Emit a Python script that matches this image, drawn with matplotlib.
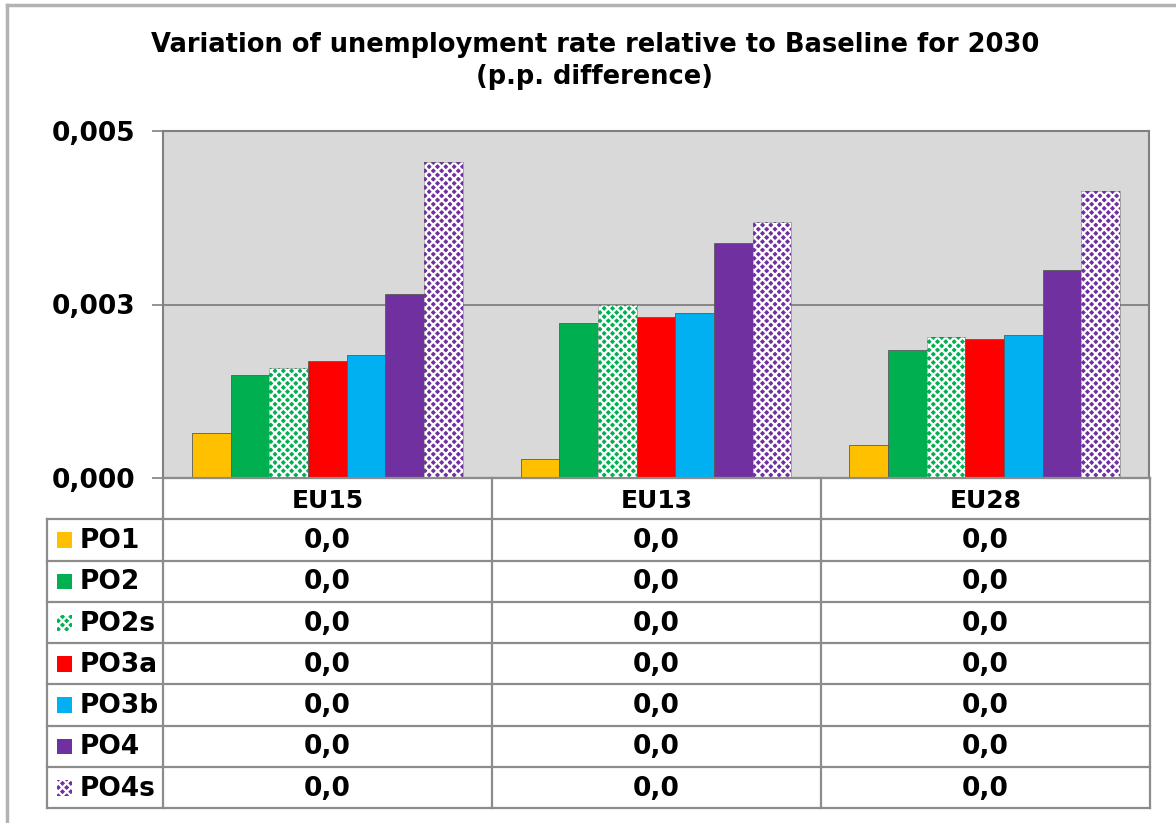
import matplotlib.pyplot as plt
from matplotlib.patches import Rectangle
from matplotlib.lines import Line2D

# data
regions = ['EU15', 'EU13', 'EU28']
options = ['PO1', 'PO2', 'PO2s', 'PO3a', 'PO3b', 'PO4', 'PO4s']
po1 = [0.00065, 0.00027, 0.00048]
po2 = [0.00148, 0.00224, 0.00185]
po2s = [0.00159, 0.00250, 0.00203]
po3a = [0.00169, 0.00232, 0.00200]
po3b = [0.00177, 0.00238, 0.00206]
po4 = [0.00265, 0.00338, 0.00300]
po4s = [0.00456, 0.00369, 0.00413]
yticks = [0.0, 0.0025, 0.005]
ytick_labels = ['0,000', '0,003', '0,005']

series = [po1, po2, po2s, po3a, po3b, po4, po4s]
colors = ['#FFC000', '#00B050', '#00B050', '#FF0000', '#00B0F0', '#7030A0', '#7030A0']
hatches = [None, None, 'xxxx', None, None, None, 'xxxx']

plt.rcParams['hatch.linewidth'] = 1.6
W, H = 1176, 823
fig = plt.figure(figsize=(W / 100, H / 100), dpi=100)

def fx(px):
    return px / W

def fy(py):
    return 1 - py / H

# outer frame of the chart
fig.add_artist(Line2D([fx(7), fx(7)], [fy(5), 0], color='#B3B3B3', lw=2.5))
fig.add_artist(Line2D([fx(7), 1], [fy(5), fy(5)], color='#B3B3B3', lw=2.5))

fig.text(fx(595), fy(45), 'Variation of unemployment rate relative to Baseline for 2030',
         ha='center', va='center', fontsize=18.5, fontweight='bold')
fig.text(fx(595), fy(77), '(p.p. difference)', ha='center', va='center',
         fontsize=18.5, fontweight='bold')

# main bar axes
ax = fig.add_axes([fx(163), fy(478), fx(1149) - fx(163), fy(131) - fy(478)])
ax.set_facecolor('#D9D9D9')
n = len(options)
w = 1 / 8.5
for j, (vals, c, h) in enumerate(zip(series, colors, hatches)):
    xs = [i + (j - (n - 1) / 2) * w for i in range(len(regions))]
    if h:
        ax.bar(xs, vals, width=w, color=c, hatch=h, edgecolor='white', linewidth=0, zorder=3)
        ax.bar(xs, vals, width=w, color='none', edgecolor='#5a5a5a', linewidth=0.6, alpha=0.5, zorder=4)
    else:
        ax.bar(xs, vals, width=w, color=c, edgecolor='#5a5a5a', linewidth=0.6, zorder=3)

ax.set_xlim(-0.5, len(regions) - 0.5)
ax.set_ylim(0, 0.005)
ax.set_yticks(yticks)
ax.set_yticklabels(ytick_labels, fontsize=19, fontweight='bold')
ax.set_xticks([])
ax.tick_params(axis='y', length=8, width=1.2, color='#808080', pad=12)
ax.grid(axis='y', color='#808080', lw=1.3, zorder=1)
for s in ax.spines.values():
    s.set_color('#808080')
    s.set_linewidth(1.5)

# data table under the chart
tx0, tx1 = 47, 1150
tab = fig.add_axes([fx(tx0), fy(808), fx(tx1) - fx(tx0), fy(478) - fy(808)])
leg_w = (163 - tx0) / ((1149 - 163) / 3)
tab.set_xlim(-0.5 - leg_w, len(regions) - 0.5)
nrows = len(options) + 1
tab.set_ylim(nrows, 0)
tab.axis('off')
lc = '#8C8C8C'
lw = 1.6
# header row only over the category columns
tab.plot([-0.5, len(regions) - 0.5], [0, 0], color=lc, lw=lw, clip_on=False)
for r in range(1, nrows + 1):
    tab.plot([-0.5 - leg_w, len(regions) - 0.5], [r, r], color=lc, lw=lw, clip_on=False)
tab.plot([-0.5 - leg_w] * 2, [1, nrows], color=lc, lw=lw, clip_on=False)
for k in range(len(regions) + 1):
    tab.plot([k - 0.5] * 2, [0, nrows], color=lc, lw=lw, clip_on=False)

for i, reg in enumerate(regions):
    tab.text(i, 0.55, reg, ha='center', va='center', fontsize=18, fontweight='bold')
for j, (name, vals, c, h) in enumerate(zip(options, series, colors, hatches)):
    r = j + 1
    kx = -0.5 - leg_w + 0.03
    tab.add_patch(Rectangle((kx, r + 0.32), 0.045, 0.38, facecolor=c, hatch=h,
                            edgecolor='white' if h else c, linewidth=0))
    tab.text(kx + 0.07, r + 0.53, name, ha='left', va='center', fontsize=19, fontweight='bold')
    for i, v in enumerate(vals):
        tab.text(i, r + 0.53, f'{v:.1f}'.replace('.', ','), ha='center', va='center',
                 fontsize=19, fontweight='bold')

plt.savefig('out.png', dpi=100)
